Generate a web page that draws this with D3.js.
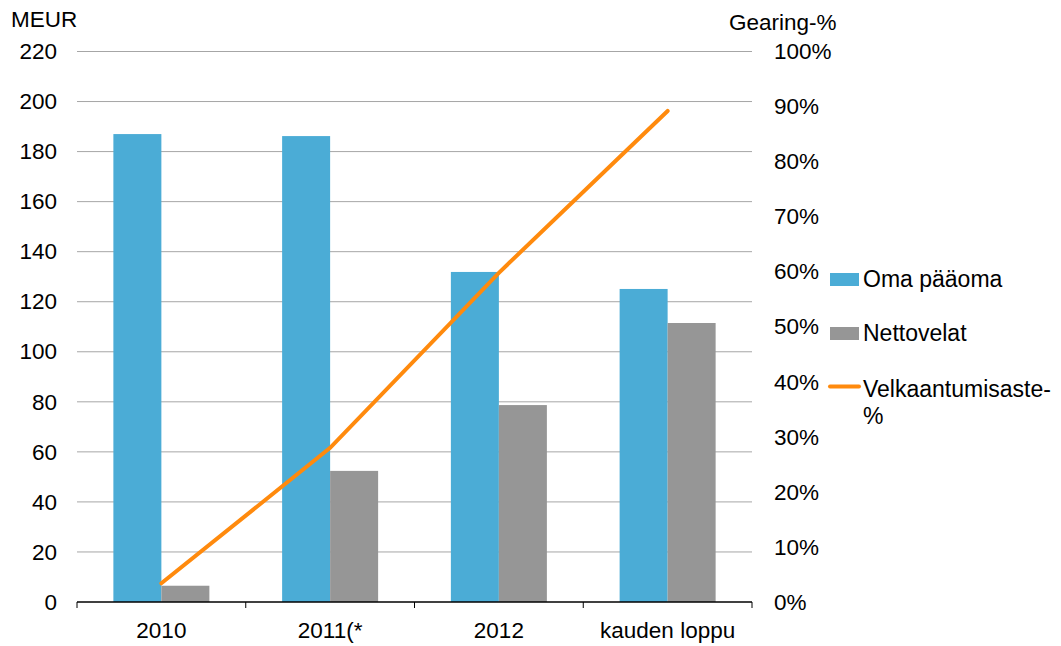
<!DOCTYPE html>
<html><head><meta charset="utf-8">
<script src="https://cdn.jsdelivr.net/npm/d3@7"></script>
<style>body{margin:0;background:#fff}text{font-family:"Liberation Sans",Arial,sans-serif;fill:#000}</style>
</head><body><svg id="c" width="1061" height="646"></svg>
<script>
const categories = ["2010", "2011(*", "2012", "kauden loppu"];
const omaPaaoma = [187.0, 186.2, 131.9, 125.1];
const nettovelat = [6.5, 52.4, 78.7, 111.5];
const gearing = [3.4, 28.0, 59.8, 89.2];
const leftTicks = [0, 20, 40, 60, 80, 100, 120, 140, 160, 180, 200, 220];
const rightTicks = [0, 10, 20, 30, 40, 50, 60, 70, 80, 90, 100];
const seriesNames = ["Oma pääoma", "Nettovelat", "Velkaantumisaste-%"];
const colors = {blue: "#4bacd6", grey: "#969696", orange: "#ff8a0d", grid: "#a6a6a6"};

const FS = "22.5px";
const svg = d3.select("#c");
const L = 77, R = 752, T = 51.5, B = 602;
const x = d3.scaleBand().domain(categories).range([L, R]);
const y = d3.scaleLinear().domain([0, 220]).range([B, T]);
const y2 = d3.scaleLinear().domain([0, 100]).range([B, T]);
const barW = 48;

// gridlines
svg.append("g").selectAll("line").data(leftTicks.filter(d => d > 0)).join("line")
  .attr("x1", L).attr("x2", R).attr("y1", d => y(d)).attr("y2", d => y(d))
  .attr("stroke", colors.grid).attr("stroke-width", 1);

// left axis labels
const gl = svg.append("g").attr("transform", `translate(${L},0)`)
  .call(d3.axisLeft(y).tickValues(leftTicks).tickSize(0).tickPadding(20));
gl.select(".domain").remove();
gl.selectAll("text").style("font-size", FS).attr("font-family", null);

// right axis labels
const gr = svg.append("g").attr("transform", `translate(${R},0)`)
  .call(d3.axisRight(y2).tickValues(rightTicks).tickFormat(d => d + "%").tickSize(0).tickPadding(22));
gr.select(".domain").remove();
gr.selectAll("text").style("font-size", FS).attr("font-family", null);

// bars
const cx = c => x(c) + x.bandwidth() / 2;
svg.append("g").selectAll("rect").data(categories).join("rect")
  .attr("x", c => cx(c) - barW).attr("width", barW)
  .attr("y", (c, i) => y(omaPaaoma[i])).attr("height", (c, i) => B - y(omaPaaoma[i]))
  .attr("fill", colors.blue);
svg.append("g").selectAll("rect").data(categories).join("rect")
  .attr("x", c => cx(c)).attr("width", barW)
  .attr("y", (c, i) => y(nettovelat[i])).attr("height", (c, i) => B - y(nettovelat[i]))
  .attr("fill", colors.grey);

// bottom axis
const gb = svg.append("g").attr("transform", `translate(0,${B})`);
gb.append("line").attr("x1", L).attr("x2", R).attr("stroke", "#000").attr("stroke-width", 1.3);
const bounds = d3.range(categories.length + 1).map(i => L + i * x.bandwidth());
gb.selectAll(".tk").data(bounds).join("line").attr("class", "tk")
  .attr("x1", d => d).attr("x2", d => d).attr("y1", 0).attr("y2", 6).attr("stroke", "#000").attr("stroke-width", 1);
gb.selectAll("text").data(categories).join("text")
  .attr("x", c => cx(c)).attr("y", 36).attr("text-anchor", "middle").style("font-size", FS).text(c => c);

// line
svg.append("path").datum(categories)
  .attr("d", d3.line().x(c => cx(c)).y((c, i) => y2(gearing[i])))
  .attr("fill", "none").attr("stroke", colors.orange).attr("stroke-width", 4).attr("stroke-linecap", "round");

// axis titles
svg.append("text").attr("x", 11).attr("y", 27).style("font-size", FS).text("MEUR");
svg.append("text").attr("x", 729).attr("y", 30).style("font-size", FS).text("Gearing-%");

// legend
const LFS = "23px";
const lg = svg.append("g");
lg.append("rect").attr("x", 830).attr("y", 273).attr("width", 29).attr("height", 13).attr("fill", colors.blue);
lg.append("text").attr("x", 863).attr("y", 287).style("font-size", LFS).text(seriesNames[0]);
lg.append("rect").attr("x", 830).attr("y", 327).attr("width", 29).attr("height", 13).attr("fill", colors.grey);
lg.append("text").attr("x", 863).attr("y", 341).style("font-size", LFS).text(seriesNames[1]);
lg.append("line").attr("x1", 830).attr("x2", 859).attr("y1", 386.5).attr("y2", 386.5)
  .attr("stroke", colors.orange).attr("stroke-width", 4).attr("stroke-linecap", "round");
const lt = lg.append("text").style("font-size", LFS);
lt.append("tspan").attr("x", 863).attr("y", 397).text("Velkaantumisaste-");
lt.append("tspan").attr("x", 863).attr("y", 424).text("%");
</script></body></html>
